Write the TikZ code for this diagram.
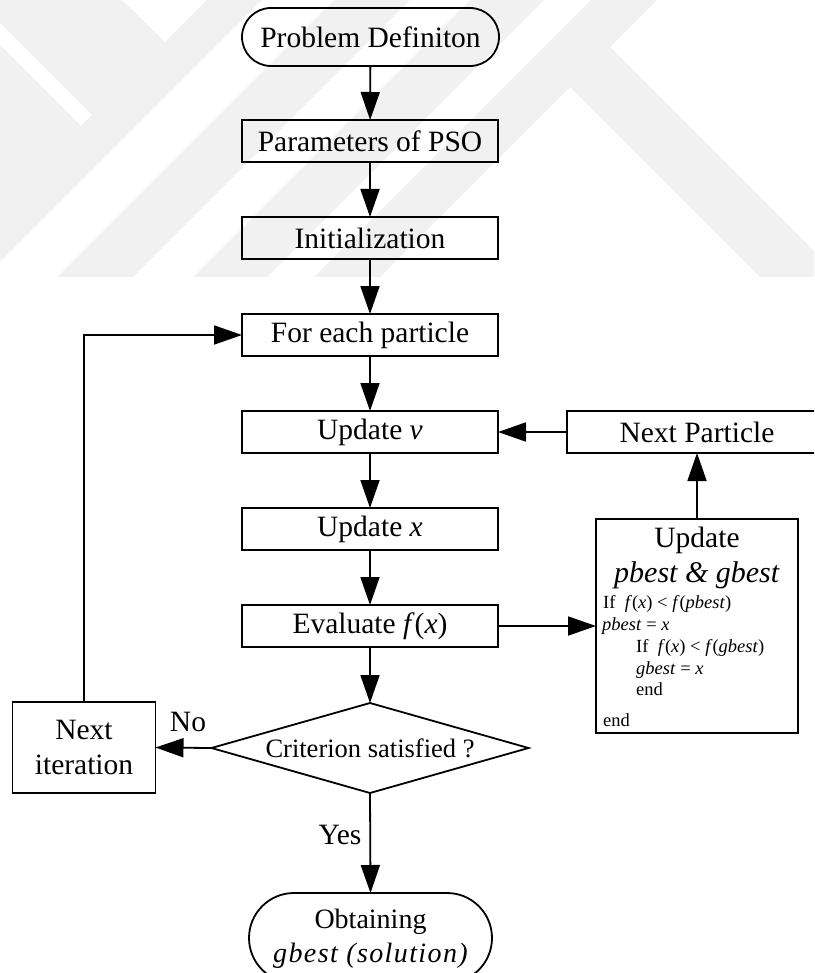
\documentclass[tikz,border=0pt]{standalone}
\usepackage{fontspec}
\setmainfont{Liberation Serif}
\newfontfamily\widefam{Liberation Serif}[LetterSpace=5.0]
\usetikzlibrary{arrows.meta,shapes.geometric}
\definecolor{wmgray}{RGB}{241,241,241}

\tikzset{
  flow/.style={draw=black, line width=1.8pt, outer sep=0pt, inner sep=0pt, align=center},
  procbox/.style={flow, rectangle, minimum width=256pt, minimum height=42pt,
    font=\fontsize{29.5}{35}\selectfont},
  termbox/.style={flow, rectangle, rounded corners=#1,
    font=\fontsize{29.5}{35}\selectfont},
  decision/.style={flow, diamond, minimum width=317pt, minimum height=90pt, aspect=3.52,
    font=\fontsize{26.5}{30}\selectfont},
  link/.style={line width=1.8pt, -{Triangle[length=28pt,width=19pt]}},
  labeltext/.style={inner sep=0pt, font=\fontsize{29.5}{35}\selectfont},
  codeline/.style={inner sep=0pt, anchor=base west, font=\fontsize{18.5}{22}\selectfont},
}

\begin{document}
\begin{tikzpicture}[x=1pt, y=-1pt]
\useasboundingbox (0,0) rectangle (814,973);
\clip (0,0) rectangle (814,973);

% faint background emblem
\begin{scope}
  \clip (0,0) rectangle (814,277);
  \fill[wmgray] (0,0) -- (122,0) -- (165,42) -- (92,115) -- (0,23) -- cycle;
  \fill[wmgray] (0,45) -- (81,126) -- (0,207) -- cycle;
  \fill[wmgray] (207,0) -- (262,0) -- (0,262) -- (0,207) -- cycle;
  \fill[wmgray] (334,0) -- (410,0) -- (133,277) -- (57,277) -- cycle;
  \fill[wmgray] (470,0) -- (544,0) -- (267,277) -- (193,277) -- cycle;
  \fill[wmgray] (591,0) -- (657,0) -- (380,277) -- (314,277) -- cycle;
  \fill[wmgray] (610,47) -- (840,277) -- (760,277) -- (570,87) -- cycle;
\end{scope}

% main column
\node[termbox=29pt, minimum width=257pt, minimum height=58pt] (pd) at (370.5,37) {Problem Definiton};
\node[procbox] (params) at (370,141) {Parameters of PSO};
\node[procbox] (init)   at (370,238) {Initialization};
\node[procbox] (each)   at (370,335) {For each particle};
\node[procbox] (updv)   at (370,432) {Update \textit{v}};
\node[procbox] (updx)   at (370,529) {Update \textit{x}};
\node[procbox] (eval)   at (370,626) {Evaluate \textit{f}(\textit{x})};
\node[decision] (crit)  at (370,748) {Criterion satisfied ?};
\node[termbox=45pt, minimum width=243pt, minimum height=90pt] (obt) at (370.5,938) {};
\node[inner sep=0pt, anchor=base, font=\fontsize{28}{30}\selectfont] (obt1) at (370.5,928) {Obtaining};
\node[inner sep=0pt, anchor=base, font=\fontsize{28}{30}\selectfont] (obt2) at (370.5,962) {\widefam\itshape gbest (solution)};

% side boxes
\node[procbox, minimum width=143pt, minimum height=91pt] (nxtit) at (84,747.5) {Next\\iteration};
\node[procbox, minimum width=260pt] (nxtp) at (697,432) {};
\node[labeltext] (nxtptext) at (697,432) {Next Particle};
\node[flow, rectangle, minimum width=202pt, minimum height=214pt] (pbox) at (697,626) {};

% contents of the best-value update box
\node[inner sep=0pt, anchor=base, font=\fontsize{29.5}{35}\selectfont] (pbt1) at (697,547) {Update};
\node[inner sep=0pt, anchor=base, font=\fontsize{30}{35}\selectfont] (pbt2) at (697,582) {\textit{pbest \& gbest}};
\node[codeline] (c1) at (603,608) {If\ \ \textit{f}(\textit{x}) < \textit{f}(\textit{pbest})};
\node[codeline] (c2) at (602,630) {\textit{pbest} = \textit{x}};
\node[codeline] (c3) at (636,652) {If\ \ \textit{f}(\textit{x}) < \textit{f}(\textit{gbest})};
\node[codeline] (c4) at (636,674) {\textit{gbest} = \textit{x}};
\node[codeline] (c5) at (636,695) {end};
\node[codeline] (c6) at (603,726) {end};

% connectors
\draw[link] (pd) -- (params);
\draw[link] (params) -- (init);
\draw[link] (init) -- (each);
\draw[link] (each) -- (updv);
\draw[link] (updv) -- (updx);
\draw[link] (updx) -- (eval);
\draw[link] (eval) -- (crit);
\draw[link] (crit.south) -- (obt.north);
\draw[link] (crit.west) -- (nxtit.east);
\draw[link] (nxtit.north) |- (each.west);
\draw[link] (eval.east) -- (pbox.west);
\draw[link] (pbox.north) -- (nxtp.south);
\draw[link] (nxtp.west) -- (updv.east);

% branch labels
\node[labeltext] (lno) at (188,722) {No};
\node[labeltext] (lyes) at (340,835) {Yes};
\end{tikzpicture}
\end{document}
